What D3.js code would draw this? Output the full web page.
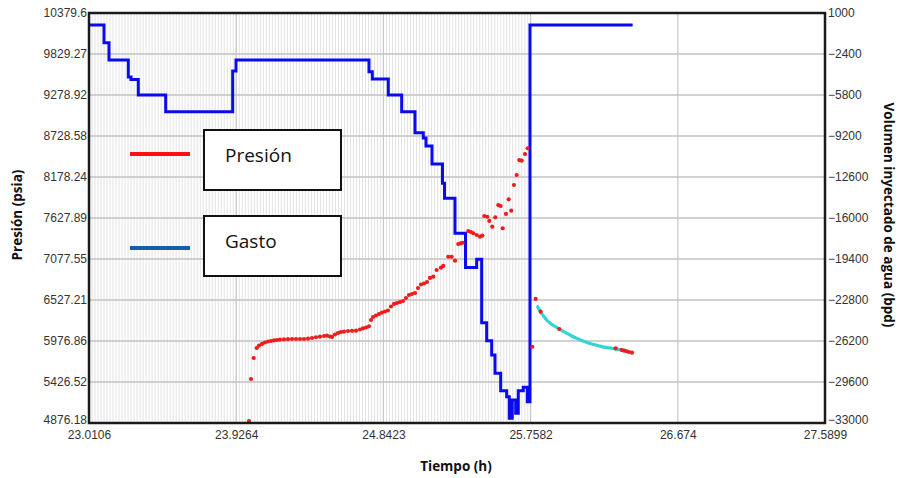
<!DOCTYPE html>
<html>
<head>
<meta charset="utf-8">
<script src="https://cdn.jsdelivr.net/npm/d3@7"></script>
<style>
  html, body { margin: 0; padding: 0; background: #fff; }
  svg { display: block; }
</style>
</head>
<body>
<svg id="chart" width="899" height="478"></svg>
<script>
// ---------- data ----------
const xTicks = [23.0106, 23.9264, 24.8423, 25.7582, 26.674, 27.5899];
const xTickLabels = ["23.0106", "23.9264", "24.8423", "25.7582", "26.674", "27.5899"];
const pTicks = [4876.18, 5426.52, 5976.86, 6527.21, 7077.55, 7627.89, 8178.24, 8728.58, 9278.92, 9829.27, 10379.6];
const pTickLabels = ["4876.18", "5426.52", "5976.86", "6527.21", "7077.55", "7627.89", "8178.24", "8728.58", "9278.92", "9829.27", "10379.6"];
const qTicks = [-33000, -29600, -26200, -22800, -19400, -16000, -12600, -9200, -5800, -2400, 1000];

// Gasto (rate, bpd) – step series
const gastoTime = [23.0106, 23.1039, 23.1350, 23.2551, 23.2719, 23.3173, 23.4878, 23.9046, 23.9252,
  24.7526, 24.7732, 24.8727, 24.9561, 25.0388, 25.0905, 25.1073, 25.1446, 25.2099, 25.2224,
  25.2877, 25.3530, 25.4227, 25.4538, 25.4849, 25.5160, 25.5366, 25.5720, 25.6093, 25.6255,
  25.6442, 25.6653, 25.6815, 25.7126, 25.7375, 25.7543, 26.3932];
const gastoRate = [0, -1460, -2900, -4310, -4520, -5800, -7190, -3810, -2900,
  -3870, -4470, -5800, -7190, -8930, -9370, -10030, -11520, -13120, -14370,
  -17270, -20110, -19430, -24680, -26180, -27360, -28880, -30320, -30820, -32610,
  -31090, -32200, -30320, -30040, -31230, 0, 0];

// Presión (psia) – measured points
const presTime = [24.0060, 24.0185, 24.0353, 24.0540, 24.0683, 24.0869, 24.1056, 24.1243, 24.1429, 24.1616,
  24.1802, 24.1989, 24.2238, 24.2487, 24.2736, 24.2985, 24.3233, 24.3482, 24.3731, 24.3980,
  24.4229, 24.4478, 24.4727, 24.4913, 24.5100, 24.5224, 24.5411, 24.5598, 24.5784, 24.5971,
  24.6220, 24.6469, 24.6717, 24.6966, 24.7153, 24.7340, 24.7526, 24.7651, 24.7775, 24.7962,
  24.8148, 24.8335, 24.8522, 24.8708, 24.8895, 24.9082, 24.9268, 24.9455, 24.9642, 24.9828,
  25.0015, 25.0201, 25.0388, 25.0575, 25.0761, 25.0948, 25.1135, 25.1321, 25.1527, 25.1738,
  25.2006, 25.2149, 25.2460, 25.2671, 25.2877, 25.3082, 25.3219, 25.3356, 25.3704, 25.3872,
  25.4015, 25.4227, 25.4432, 25.4575, 25.4700, 25.4886, 25.5011, 25.5197, 25.5384, 25.5571,
  25.5720, 25.5844, 25.6050, 25.6218, 25.6379, 25.6547, 25.6715, 25.6877, 25.7027, 25.7232,
  25.7400, 25.7686, 25.7897, 25.8209, 25.9366, 26.2875, 26.3248, 26.3391, 26.3547, 26.3702,
  26.3889];
const presValue = [4903, 5467, 5749, 5883, 5916, 5937, 5957, 5970, 5977, 5984,
  5990, 5994, 5998, 6001, 6004, 6004, 6004, 6004, 6008, 6017,
  6027, 6035, 6044, 6048, 6037, 6031, 6064, 6084, 6098, 6104,
  6111, 6114, 6115, 6131, 6145, 6158, 6174, 6259, 6299, 6319,
  6339, 6359, 6373, 6386, 6440, 6474, 6487, 6500, 6514, 6554,
  6594, 6608, 6621, 6688, 6735, 6749, 6769, 6823, 6840, 6930,
  6961, 6984, 7108, 7108, 7055, 7279, 7286, 7296, 7453, 7440,
  7423, 7400, 7377, 7390, 7655, 7645, 7588, 7511, 7637, 7802,
  7789, 7490, 7682, 7879, 7726, 8071, 8205, 8406, 8397, 8487,
  8564, 5900, 6541, 6370, 6138, 5879, 5856, 5847, 5839, 5829,
  5820];

// Presión – fitted/simulated falloff (cyan)
const fitTime = [25.8022, 25.8165, 25.8370, 25.8582, 25.8893, 25.9304, 25.9720, 26.0137, 26.0548,
  26.0965, 26.1382, 26.1792, 26.2209, 26.2626, 26.3036, 26.3453];
const fitValue = [6437, 6380, 6317, 6259, 6201, 6147, 6094, 6044, 6004,
  5967, 5937, 5914, 5892, 5879, 5865, 5852];

const legendLabels = ["Presión", "Gasto"];

// ---------- layout ----------
const L = 89, R = 825, T = 13, B = 423;
const svg = d3.select("#chart");
svg.append("rect").attr("width", 899).attr("height", 478).attr("fill", "#fff");

const x = d3.scaleLinear([23.0106, 27.5899], [L, R]);
const yP = d3.scaleLinear([4876.18, 10379.6], [B, T]);
const yQ = d3.scaleLinear([-33000, 1000], [B, T]);

// minor vertical lines in the logged region
const gMinor = svg.append("g");
const minorTimes = d3.range(23.0106, gastoTime[gastoTime.length - 2], 0.0187);
gMinor.selectAll("line").data(minorTimes).join("line")
  .attr("x1", d => x(d)).attr("x2", d => x(d))
  .attr("y1", T).attr("y2", B)
  .attr("stroke", "#e3e3e3").attr("stroke-width", 1);

// major grid
svg.append("g").selectAll("line").data(xTicks).join("line")
  .attr("x1", d => x(d)).attr("x2", d => x(d)).attr("y1", T).attr("y2", B)
  .attr("stroke", "#c8c8c8").attr("stroke-width", 1.2);
svg.append("g").selectAll("line").data(pTicks).join("line")
  .attr("x1", L).attr("x2", R).attr("y1", d => yP(d)).attr("y2", d => yP(d))
  .attr("stroke", "#c2c2c2").attr("stroke-width", 1.3);

// gasto step line
const gastoData = gastoTime.map((t, i) => ({ t, v: gastoRate[i] }));
svg.append("path").datum(gastoData)
  .attr("d", d3.line().x(d => x(d.t)).y(d => yQ(d.v)).curve(d3.curveStepAfter))
  .attr("fill", "none").attr("stroke", "#0a0aee").attr("stroke-width", 3)
  .attr("stroke-linejoin", "miter");

// cyan fitted curve
const fitData = fitTime.map((t, i) => ({ t, v: fitValue[i] }));
svg.append("path").datum(fitData)
  .attr("d", d3.line().x(d => x(d.t)).y(d => yP(d.v)).curve(d3.curveMonotoneX))
  .attr("fill", "none").attr("stroke", "#36d3d3").attr("stroke-width", 3.2)
  .attr("stroke-linecap", "round");

// pressure points
const presData = presTime.map((t, i) => ({ t, v: presValue[i] }));
svg.append("g").selectAll("circle").data(presData).join("circle")
  .attr("cx", d => x(d.t)).attr("cy", d => yP(d.v)).attr("r", 2.1)
  .attr("fill", "#ee1c1c");

// frame
svg.append("rect").attr("x", L).attr("y", T).attr("width", R - L).attr("height", B - T)
  .attr("fill", "none").attr("stroke", "#1a1a1a").attr("stroke-width", 2.5);

// axes
const tickFont = "'Liberation Sans', Arial, sans-serif";
function styleAxis(g) {
  g.select(".domain").remove();
  g.selectAll("line").remove();
  g.selectAll("text").attr("font-family", tickFont).attr("font-size", 12).attr("fill", "#333");
}
const gLeft = svg.append("g").attr("transform", `translate(${L},0)`)
  .call(d3.axisLeft(yP).tickValues(pTicks).tickFormat((d, i) => pTickLabels[i]).tickSize(0).tickPadding(2))
  .call(styleAxis);
const gRight = svg.append("g").attr("transform", `translate(${R},0)`)
  .call(d3.axisRight(yQ).tickValues(qTicks).tickFormat(d3.format("d")).tickSize(0).tickPadding(3))
  .call(styleAxis);
// lowest side labels sit just above the time labels
gLeft.selectAll(".tick").filter((d, i) => i === 0).select("text").attr("y", -3);
gRight.selectAll(".tick").filter((d, i) => i === 0).select("text").attr("y", -3);
svg.append("g").attr("transform", `translate(0,${B})`)
  .call(d3.axisBottom(x).tickValues(xTicks).tickFormat((d, i) => xTickLabels[i]).tickSize(0).tickPadding(7))
  .call(styleAxis);

// axis titles
const titleFont = "'Open Sans', 'Noto Sans', sans-serif";
svg.append("text").attr("transform", "translate(22,215) rotate(-90)")
  .attr("text-anchor", "middle").attr("font-family", titleFont).attr("font-weight", "bold")
  .attr("font-size", 13.5).attr("fill", "#111").text("Presión (psia)");
svg.append("text").attr("transform", "translate(884,215) rotate(90)")
  .attr("text-anchor", "middle").attr("font-family", titleFont).attr("font-weight", "bold")
  .attr("font-size", 13.5).attr("fill", "#111").text("Volumen inyectado de agua (bpd)");
svg.append("text").attr("x", 456).attr("y", 471)
  .attr("text-anchor", "middle").attr("font-family", titleFont).attr("font-weight", "bold")
  .attr("font-size", 13.5).attr("fill", "#111").text("Tiempo (h)");

// legend
const legendColors = ["#ff0f0f", "#155fa8"];
const legendTop = [130, 216];
const lg = svg.append("g");
legendLabels.forEach((lab, i) => {
  lg.append("line").attr("x1", 130).attr("x2", 190)
    .attr("y1", legendTop[i] + (i === 0 ? 24 : 32)).attr("y2", legendTop[i] + (i === 0 ? 24 : 32))
    .attr("stroke", legendColors[i]).attr("stroke-width", 4);
  lg.append("rect").attr("x", 204).attr("y", legendTop[i]).attr("width", 137).attr("height", 60)
    .attr("fill", "#fff").attr("stroke", "#111").attr("stroke-width", 2);
  lg.append("text").attr("x", 225).attr("y", legendTop[i] + 32)
    .attr("font-family", titleFont).attr("font-size", 19).attr("fill", "#111").text(lab);
});
</script>
</body>
</html>
